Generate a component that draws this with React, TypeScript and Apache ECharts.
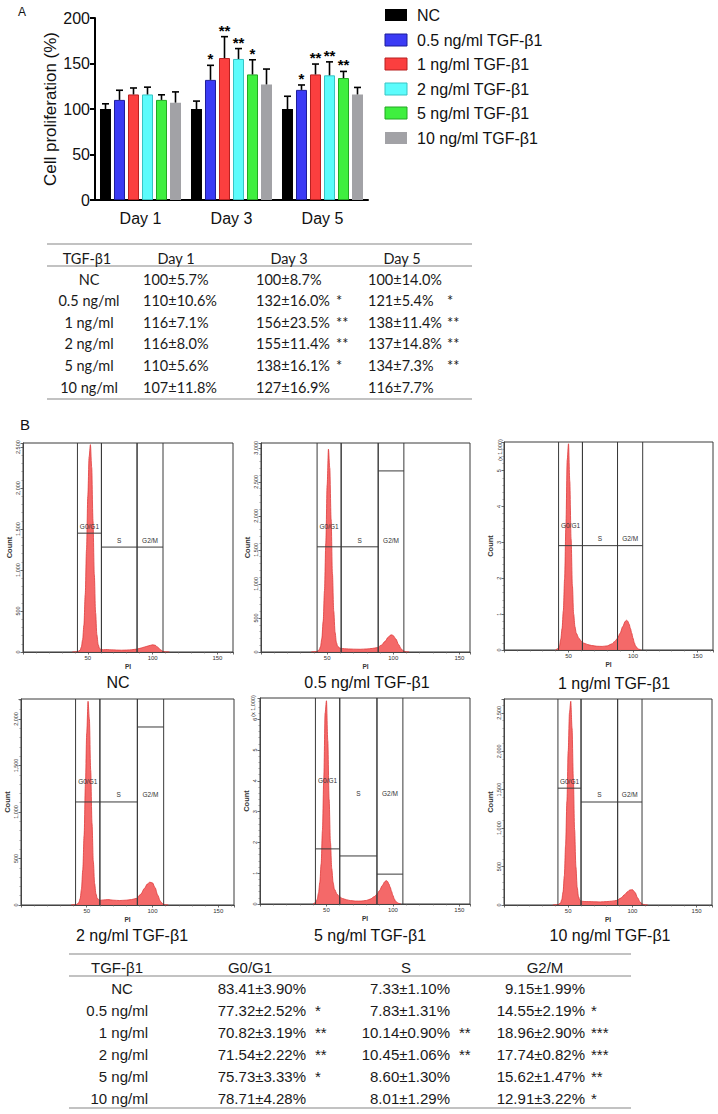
import React, { useEffect, useRef } from 'react';
import * as echarts from 'echarts';

// ---------- Panel A data ----------
const days = ['Day 1', 'Day 3', 'Day 5'];
const groups = ['NC', '0.5 ng/ml TGF-β1', '1 ng/ml TGF-β1', '2 ng/ml TGF-β1', '5 ng/ml TGF-β1', '10 ng/ml TGF-β1'];
const groupShort = ['NC', '0.5 ng/ml', '1 ng/ml', '2 ng/ml', '5 ng/ml', '10 ng/ml'];
const groupColors = ['#000000', '#3b3bf5', '#fb3f3f', '#5cfcfc', '#3fef3f', '#a2a2a6'];
const groupBorders = ['#000000', '#1d1d9a', '#b82020', '#38c4c4', '#22a822', '#a2a2a6'];
const meanDay1 = [100, 110, 116, 116, 110, 107];
const sdDay1 = [5.7, 10.6, 7.1, 8.0, 5.6, 11.8];
const meanDay3 = [100, 132, 156, 155, 138, 127];
const sdDay3 = [8.7, 16.0, 23.5, 11.4, 16.1, 16.9];
const meanDay5 = [100, 121, 138, 137, 134, 116];
const sdDay5 = [14.0, 5.4, 11.4, 14.8, 7.3, 7.7];
const starsDay1 = ['', '', '', '', '', ''];
const starsDay3 = ['', '*', '**', '**', '*', ''];
const starsDay5 = ['', '*', '**', '**', '**', ''];

// ---------- Panel B data ----------
const histTitles = ['NC', '0.5 ng/ml TGF-β1', '1 ng/ml TGF-β1', '2 ng/ml TGF-β1', '5 ng/ml TGF-β1', '10 ng/ml TGF-β1'];
const histNC = [[38,0],[42,4],[44,20],[45,60],[46,150],[47,330],[48,700],[49,1250],[50,1900],[51,2380],[52,2530],[53,2250],[54,1600],[55,950],[56,480],[57,210],[58,90],[59,45],[60,32],[62,28],[65,30],[68,26],[72,24],[76,22],[80,24],[84,28],[88,36],[91,48],[94,62],[97,76],[100,88],[102,82],[104,58],[106,28],[108,8],[110,2],[113,0]];
const hist05 = [[38,0],[42,6],[44,30],[45,80],[46,200],[47,450],[48,900],[49,1600],[50,2450],[51,2980],[52,2700],[53,1950],[54,1150],[55,600],[56,290],[57,140],[58,80],[60,55],[63,48],[66,45],[70,42],[75,40],[80,45],[84,52],[88,65],[91,100],[94,160],[96,215],[98,248],[99,252],[100,240],[102,190],[104,110],[106,45],[108,12],[110,2],[112,0]];
const hist1 = [[40,0],[42,40],[43,120],[44,300],[45,600],[46,1100],[47,2000],[48,3500],[49,5300],[50,5750],[51,4700],[52,3100],[53,1800],[54,1000],[55,650],[56,470],[58,330],[60,240],[62,190],[65,150],[68,125],[72,105],[76,100],[80,115],[83,160],[86,240],[88,330],[90,470],[92,650],[94,800],[95,830],[96,800],[97,720],[98,600],[99,470],[100,330],[101,200],[102,110],[104,30],[106,0]];
const hist2 = [[38,0],[42,5],[44,25],[45,70],[46,170],[47,380],[48,750],[49,1300],[50,1850],[51,2190],[52,2000],[53,1450],[54,880],[55,470],[56,230],[57,120],[58,70],[60,50],[63,55],[66,58],[70,52],[75,48],[80,52],[84,58],[88,72],[91,115],[94,180],[96,225],[98,245],[100,238],[102,185],[104,105],[106,40],[108,10],[110,2],[112,0]];
const hist5 = [[40,0],[42,50],[43,150],[44,350],[45,700],[46,1300],[47,2400],[48,4100],[49,6200],[50,6600],[51,5300],[52,3400],[53,2000],[54,1150],[55,700],[56,480],[58,320],[60,230],[62,180],[65,140],[68,110],[72,95],[76,95],[80,115],[83,160],[86,240],[88,320],[90,440],[92,600],[94,730],[95,760],[96,730],[97,650],[98,540],[99,410],[100,280],[101,170],[102,90],[104,25],[106,0]];
const hist10 = [[38,0],[42,5],[44,25],[45,70],[46,170],[47,380],[48,780],[49,1350],[50,2000],[51,2500],[52,2650],[53,2300],[54,1650],[55,980],[56,500],[57,230],[58,110],[59,65],[60,50],[63,45],[66,44],[70,42],[75,40],[80,44],[84,50],[88,60],[91,90],[94,135],[96,170],[98,195],[100,200],[102,165],[104,95],[106,38],[108,10],[110,2],[112,0]];
const histData = [histNC, hist05, hist1, hist2, hist5, hist10];

const gateLabels = ['G0/G1', 'S', 'G2/M'];
const gatesNC = [[42, 60.5, 1450], [60.5, 88, 1280], [88, 108, 1280]];
const gates05 = [[42.4, 60.6, 1545], [60.6, 88.6, 1545], [88.6, 108, 2660]];
const gates1 = [[42.3, 60.8, 2910], [60.8, 88, 2910], [88, 107.5, 2910]];
const gates2 = [[41.5, 60, 1108], [60, 88.5, 1108], [88.5, 108.5, 1914]];
const gates5 = [[41.7, 60, 1790], [60, 88, 1560], [88, 107.5, 970]];
const gates10 = [[42, 60, 1520], [60, 88.5, 1340], [88.5, 107.5, 1340]];
const gatesAll = [gatesNC, gates05, gates1, gates2, gates5, gates10];

const histYMax = [2550, 3070, 5800, 2215, 6690, 2680];
const histYInterval = [500, 500, 1000, 500, 1000, 500];
const histThousands = [false, false, true, false, true, false];
const histXMax = [162, 158, 162, 162, 158, 162];

// cell-cycle table
const g0g1Mean = [83.41, 77.32, 70.82, 71.54, 75.73, 78.71];
const g0g1Sd = [3.90, 2.52, 3.19, 2.22, 3.33, 4.28];
const g0g1Stars = ['', '*', '**', '**', '*', ''];
const sMean = [7.33, 7.83, 10.14, 10.45, 8.60, 8.01];
const sSd = [1.10, 1.31, 0.90, 1.06, 1.30, 1.29];
const sStars = ['', '', '**', '**', '', ''];
const g2mMean = [9.15, 14.55, 18.96, 17.74, 15.62, 12.91];
const g2mSd = [1.99, 2.19, 2.90, 0.82, 1.47, 3.22];
const g2mStars = ['', '*', '***', '***', '**', '*'];

// ---------- layout ----------
const ARIAL = '"Liberation Sans", Arial, sans-serif';
const CALIBRI = 'Lato, "Open Sans", sans-serif';
const histGrids = [
  { left: 23, top: 443, width: 210, height: 209 },
  { left: 261, top: 443, width: 209, height: 209 },
  { left: 504, top: 442, width: 209, height: 208 },
  { left: 21, top: 699, width: 213, height: 206 },
  { left: 260, top: 698, width: 210, height: 206 },
  { left: 504, top: 699, width: 208, height: 206 },
];
const captionPos = [[118, 682], [367, 682], [614, 683], [132, 935], [370, 935], [610, 935]];

function txt(x: number, y: number, text: string, font: string, align = 'left', fill = '#1a1a1a', extra: any = {}) {
  return { type: 'text', x, y, silent: true, ...extra, style: { text, font, fill, align, verticalAlign: 'middle' } };
}
function hline(x1: number, x2: number, y: number, stroke = '#858585', w = 1) {
  return { type: 'line', silent: true, shape: { x1, y1: y, x2, y2: y }, style: { stroke, lineWidth: w } };
}

function buildOption() {
  const means = [meanDay1, meanDay3, meanDay5];
  const sds = [sdDay1, sdDay3, sdDay5];
  const stars = [starsDay1, starsDay3, starsDay5];

  const grid: any[] = [{ left: 95, top: 18, width: 273, height: 182 }];
  const xAxis: any[] = [{
    type: 'category', gridIndex: 0, data: days,
    axisLine: { lineStyle: { color: '#000', width: 2 } },
    axisTick: { alignWithLabel: true, length: 5, lineStyle: { width: 2, color: '#000' } },
    axisLabel: { fontSize: 16, color: '#111', margin: 10, fontFamily: ARIAL },
  }];
  const yAxis: any[] = [{
    type: 'value', gridIndex: 0, min: 0, max: 200, interval: 50,
    axisLine: { show: true, lineStyle: { color: '#000', width: 2 } },
    axisTick: { show: true, length: 5, lineStyle: { width: 2, color: '#000' } },
    splitLine: { show: false },
    axisLabel: { fontSize: 16, color: '#111', margin: 5, fontFamily: ARIAL },
    name: 'Cell proliferation (%)', nameLocation: 'middle', nameGap: 35,
    nameTextStyle: { fontSize: 17, color: '#111', fontFamily: ARIAL },
  }];
  const series: any[] = [];
  groups.forEach((g, i) => {
    series.push({
      type: 'bar', name: g, xAxisIndex: 0, yAxisIndex: 0,
      data: means.map((m) => m[i]),
      barWidth: 11, barGap: '27.3%',
      itemStyle: { color: groupColors[i], borderColor: groupBorders[i], borderWidth: i === 0 || i === 5 ? 0 : 1 },
    });
  });
  const errData: any[] = [];
  days.forEach((d, di) => groups.forEach((g, gi) => errData.push([di, gi, means[di][gi], sds[di][gi]])));
  series.push({
    type: 'custom', xAxisIndex: 0, yAxisIndex: 0, z: 5,
    encode: { x: 0, y: 2 },
    data: errData,
    renderItem: (params: any, api: any) => {
      const di = api.value(0), gi = api.value(1), m = api.value(2), s = api.value(3);
      const base = api.coord([di, m]);
      const top = api.coord([di, m + s]);
      const x = base[0] + (gi - 2.5) * 14;
      const children: any[] = [
        { type: 'line', shape: { x1: x, y1: base[1], x2: x, y2: top[1] }, style: { stroke: '#000', lineWidth: 1.6 } },
        { type: 'line', shape: { x1: x - 3.5, y1: top[1], x2: x + 3.5, y2: top[1] }, style: { stroke: '#000', lineWidth: 1.6 } },
      ];
      const st = stars[di][gi];
      if (st) {
        children.push({ type: 'text', x, y: top[1] + 1, style: { text: st, font: `bold 15px ${ARIAL}`, fill: '#000', align: 'center', verticalAlign: 'bottom' } });
      }
      return { type: 'group', children };
    },
  });

  // histograms
  histGrids.forEach((gr, k) => {
    const gIdx = k + 1;
    grid.push({ ...gr, show: true, borderColor: '#3a3a3a', borderWidth: 1, backgroundColor: 'transparent' });
    xAxis.push({
      type: 'value', gridIndex: gIdx, min: 0, max: histXMax[k], interval: 50,
      axisLine: { show: true, lineStyle: { color: '#444', width: 1 } },
      axisTick: { show: true, length: 2.5, lineStyle: { color: '#444', width: 0.8 } },
      minorTick: { show: true, splitNumber: 5, length: 1.5, lineStyle: { color: '#666', width: 0.6 } },
      splitLine: { show: false },
      axisLabel: { fontSize: 6, margin: 3, color: '#333', showMinLabel: false, showMaxLabel: false, fontFamily: ARIAL },
      name: 'PI', nameLocation: 'middle', nameGap: 11,
      nameTextStyle: { fontSize: 6.5, fontWeight: 'bold', color: '#333', fontFamily: ARIAL },
    });
    const th = histThousands[k];
    yAxis.push({
      type: 'value', gridIndex: gIdx, min: 0, max: histYMax[k], interval: histYInterval[k],
      axisLine: { show: true, lineStyle: { color: '#444', width: 1 } },
      axisTick: { show: true, length: 2.5, lineStyle: { color: '#444', width: 0.8 } },
      minorTick: { show: true, splitNumber: 5, length: 1.5, lineStyle: { color: '#666', width: 0.6 } },
      splitLine: { show: false },
      axisLabel: {
        fontSize: 5.5, rotate: 90, margin: 2.5, color: '#333', showMaxLabel: false, fontFamily: ARIAL,
        formatter: (v: number) => (th ? String(v / 1000) : v.toLocaleString('en-US')),
      },
      name: 'Count', nameLocation: 'middle', nameGap: 10,
      nameTextStyle: { fontSize: 7.5, fontWeight: 'bold', color: '#333', fontFamily: ARIAL },
    });
    series.push({
      type: 'line', xAxisIndex: gIdx, yAxisIndex: gIdx, data: histData[k],
      showSymbol: false, symbol: 'none', smooth: 0.3, smoothMonotone: 'x',
      lineStyle: { color: '#e03a3a', width: 0.8 },
      areaStyle: { color: '#f36161', opacity: 0.95 },
      z: 2,
    });
    const yMax = histYMax[k];
    series.push({
      type: 'custom', xAxisIndex: gIdx, yAxisIndex: gIdx, z: 4,
      encode: { x: [0, 1], y: 2 },
      data: gatesAll[k].map((g, gi) => [g[0], g[1], g[2], gi]),
      renderItem: (params: any, api: any) => {
        const x1 = api.value(0), x2 = api.value(1), h = api.value(2), gi = api.value(3);
        const pb = api.coord([x1, 0]);
        const pt = api.coord([x1, yMax]);
        const qb = api.coord([x2, 0]);
        const ph = api.coord([x1, h]);
        const qh = api.coord([x2, h]);
        const lab = api.coord([(x1 + x2) / 2, yMax * (gi === 0 ? 0.6 : 0.535)]);
        const st = { stroke: '#3a3a3a', lineWidth: 1 };
        return {
          type: 'group', children: [
            { type: 'line', shape: { x1: pb[0], y1: pb[1], x2: pt[0], y2: pt[1] }, style: st },
            { type: 'line', shape: { x1: qb[0], y1: qb[1], x2: qb[0], y2: pt[1] }, style: st },
            { type: 'line', shape: { x1: ph[0], y1: ph[1], x2: qh[0], y2: qh[1] }, style: st },
            { type: 'text', x: lab[0], y: lab[1], style: { text: gateLabels[gi], font: `6.5px ${ARIAL}`, fill: '#333', align: 'center', verticalAlign: 'middle' } },
          ],
        };
      },
    });
  });

  // graphics
  const graphic: any[] = [];
  graphic.push(txt(18, 12, 'A', `12px ${ARIAL}`, 'left', '#111'));
  graphic.push(txt(20, 424, 'B', `15px ${ARIAL}`, 'left', '#111'));
  // legend
  const legY = [15, 40, 64, 89, 113, 138];
  groups.forEach((g, i) => {
    graphic.push({ type: 'rect', silent: true, shape: { x: 385, y: legY[i] - 6, width: 22, height: 12 }, style: { fill: groupColors[i], stroke: groupBorders[i], lineWidth: i === 0 || i === 5 ? 0 : 1 } });
    graphic.push(txt(417, legY[i], g, `16px ${ARIAL}`, 'left', '#111'));
  });
  // Table A
  const fA = `14.5px ${CALIBRI}`;
  graphic.push(hline(47, 472, 244));
  graphic.push(hline(47, 472, 266));
  graphic.push(hline(47, 472, 399));
  graphic.push(txt(87, 258, 'TGF-β1', fA, 'center'));
  const dayHeadX = [176, 289, 402];
  const dayValX = [143, 256, 368];
  const dayStarX = [0, 336, 447];
  days.forEach((d, di) => graphic.push(txt(dayHeadX[di], 258, d, fA, 'center')));
  groupShort.forEach((g, i) => {
    const y = 279 + i * 21.6;
    graphic.push(txt(89, y, g, fA, 'center'));
    days.forEach((d, di) => {
      graphic.push(txt(dayValX[di], y, `${means[di][i]}±${sds[di][i].toFixed(1)}%`, fA, 'left'));
      if (stars[di][i]) graphic.push(txt(dayStarX[di], y, stars[di][i], fA, 'left'));
    });
  });
  // captions
  histTitles.forEach((t, k) => graphic.push(txt(captionPos[k][0], captionPos[k][1], t, `16px ${ARIAL}`, 'center', '#111')));
  // (x 1,000) labels
  graphic.push(txt(500, 450, '(x 1,000)', `5.5px ${ARIAL}`, 'center', '#333', { rotation: Math.PI / 2 }));
  graphic.push(txt(253, 706, '(x 1,000)', `5.5px ${ARIAL}`, 'center', '#333', { rotation: Math.PI / 2 }));
  // Table B
  const fB = `15px ${ARIAL}`;
  graphic.push(hline(69, 631, 954));
  graphic.push(hline(69, 631, 976));
  graphic.push(hline(69, 631, 1108));
  graphic.push(txt(117, 967, 'TGF-β1', fB, 'center'));
  graphic.push(txt(250, 967, 'G0/G1', fB, 'center'));
  graphic.push(txt(406, 967, 'S', fB, 'center'));
  graphic.push(txt(545, 967, 'G2/M', fB, 'center'));
  const cols = [
    { m: g0g1Mean, s: g0g1Sd, st: g0g1Stars, vx: 306, sx: 315 },
    { m: sMean, s: sSd, st: sStars, vx: 450, sx: 459 },
    { m: g2mMean, s: g2mSd, st: g2mStars, vx: 585, sx: 591 },
  ];
  groupShort.forEach((g, i) => {
    const y = 988 + i * 22;
    if (i === 0) graphic.push(txt(122, y, g, fB, 'center'));
    else graphic.push(txt(148, y, g, fB, 'right'));
    cols.forEach((c) => {
      graphic.push(txt(c.vx, y, `${c.m[i].toFixed(2)}±${c.s[i].toFixed(2)}%`, fB, 'right'));
      if (c.st[i]) graphic.push(txt(c.sx, y, c.st[i], fB, 'left'));
    });
  });

  return {
    animation: false,
    backgroundColor: '#ffffff',
    textStyle: { fontFamily: ARIAL },
    grid, xAxis, yAxis, series, graphic,
  };
}

export default function App() {
  const ref = useRef<HTMLDivElement>(null);
  useEffect(() => {
    const chart = echarts.init(ref.current!, null, { renderer: 'svg' });
    chart.setOption(buildOption() as any);
    return () => chart.dispose();
  }, []);
  return <div ref={ref} style={{ position: 'absolute', left: 0, top: 0, width: 718, height: 1114, background: '#fff' }} />;
}
